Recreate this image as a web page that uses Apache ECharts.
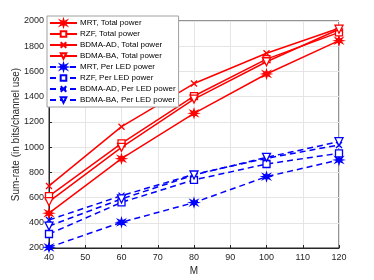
<!DOCTYPE html>
<html><head><meta charset="utf-8">
<script src="https://cdn.jsdelivr.net/npm/echarts@6/dist/echarts.min.js"></script>
<style>html,body{margin:0;padding:0;background:#fff}#c{width:374px;height:280px}</style>
</head><body><div id="c"></div>
<script>
const categories = [40, 60, 80, 100, 120];
const mrtTotal = [476, 908, 1268, 1580, 1844];
const rzfTotal = [612, 1030, 1405, 1698, 1910];
const adTotal = [692, 1162, 1504, 1744, 1942];
const baTotal = [567, 998, 1381, 1677, 1935];
const mrtLed = [205, 404, 560, 766, 898];
const rzfLed = [311, 562, 740, 866, 951];
const adLed = [422, 615, 784, 911, 1017];
const baLed = [374, 589, 779, 919, 1043];
const names = ['MRT, Total power','RZF, Total power','BDMA-AD, Total power','BDMA-BA, Total power',
  'MRT, Per LED power','RZF, Per LED power','BDMA-AD, Per LED power','BDMA-BA, Per LED power'];
const xTicks = [40,50,60,70,80,90,100,110,120];
const yTicks = [200,400,600,800,1000,1200,1400,1600,1800,2000];

const star = 'path://M5,0L6,3.3L9.3,1.7L7.3,4.4L10,5L7.3,5.6L9.3,8.3L6,6.7L5,10L4,6.7L0.7,8.3L2.7,5.6L0,5L2.7,4.4L0.7,1.7L4,3.3Z';
const xmark = 'path://M0,0L10,10M10,0L0,10';
const symbols = [
  {symbol: star, size: 8, empty: false},
  {symbol: 'rect', size: 7, empty: true},
  {symbol: xmark, size: 6, empty: false},
  {symbol: 'triangle', size: 8, empty: true, rotate: 180}
];
const datasets = [mrtTotal, rzfTotal, adTotal, baTotal, mrtLed, rzfLed, adLed, baLed];
const series = datasets.map((d, i) => {
  const red = i < 4;
  const col = red ? '#ff0000' : '#0000ff';
  const s = symbols[i % 4];
  return {
    name: names[i], type: 'line', data: categories.map((x, k) => [x, d[k]]),
    symbol: s.symbol, symbolSize: s.size, symbolRotate: s.rotate || 0,
    lineStyle: {color: col, width: 1.5, type: red ? 'solid' : [6, 4]},
    itemStyle: {color: s.empty ? '#ffffff' : col, borderColor: col, borderWidth: 1.3},
    emphasis: {disabled: true}, animation: false
  };
});

const chart = echarts.init(document.getElementById('c'));
chart.setOption({
  animation: false,
  grid: {left: 49, right: 35, top: 21, bottom: 32, show: true, borderColor: '#262626', borderWidth: 1,
    containLabel: false, outerBoundsMode: 'none'},
  legend: {
    data: names, orient: 'vertical', left: 47, top: 16, itemGap: 3,
    itemWidth: 27, itemHeight: 7, backgroundColor: '#ffffff', borderColor: '#a0a0a0', borderWidth: 1,
    padding: [3, 3, 3, 2],
    textStyle: {fontFamily: 'Liberation Sans, Arial', fontSize: 8, lineHeight: 8, color: '#000', padding: [0, 0, 0, -2]}
  },
  xAxis: {
    type: 'value', min: 40, max: 120, interval: 10, name: 'M', nameLocation: 'middle', nameGap: 18,
    nameMoveOverlap: false,
    nameTextStyle: {fontFamily: 'Liberation Sans, Arial', fontSize: 10, color: '#262626', verticalAlign: 'top'},
    axisLine: {lineStyle: {color: '#262626'}}, axisTick: {inside: true, length: 3, lineStyle: {color: '#262626'}},
    axisLabel: {fontFamily: 'Liberation Sans, Arial', fontSize: 9, color: '#262626', margin: 5},
    splitLine: {lineStyle: {color: '#e5e5e5'}}
  },
  yAxis: {
    type: 'value', min: 200, max: 2000, interval: 200, name: 'Sum-rate (in bits/channel use)',
    nameLocation: 'middle', nameGap: 28, nameMoveOverlap: false,
    nameTextStyle: {fontFamily: 'Liberation Sans, Arial', fontSize: 10, color: '#262626'},
    axisLine: {lineStyle: {color: '#262626'}}, axisTick: {inside: true, length: 3, lineStyle: {color: '#262626'}},
    axisLabel: {fontFamily: 'Liberation Sans, Arial', fontSize: 9, color: '#262626', margin: 5,
      formatter: v => String(v)},
    splitLine: {lineStyle: {color: '#e5e5e5'}}
  },
  series: series
});
</script></body></html>
